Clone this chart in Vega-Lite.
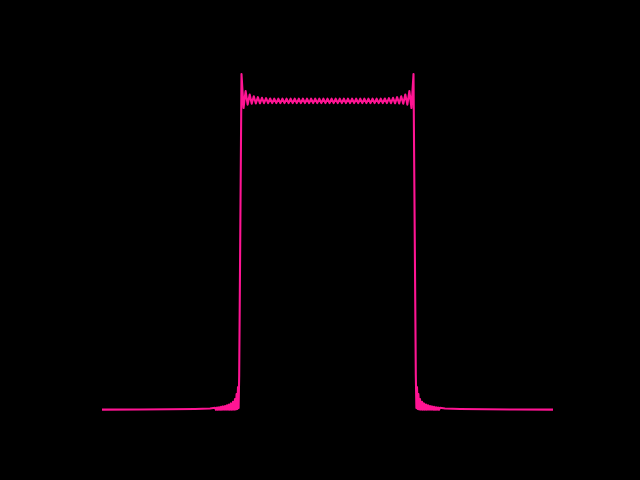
{
  "$schema": "https://vega.github.io/schema/vega-lite/v6.json",
  "autosize": {"type": "none"},
  "width": 451,
  "height": 336,
  "padding": {"left": 102, "top": 74, "right": 87, "bottom": 70},
  "background": "#000000",
  "config": {"view": {"stroke": null}},
  "data": {"values": [
    {"x": -1.0, "y": 0.0012}, {"x": -0.8315, "y": 0.0015}, {"x": -0.6984, "y": 0.0021}, {"x": -0.5876, "y": 0.0030}, {"x": -0.5211, "y": 0.0045},
    {"x": -0.4989, "y": 0.0065}, {"x": -0.4945, "y": 0.0006}, {"x": -0.4900, "y": 0.0074}, {"x": -0.4856, "y": 0.0006}, {"x": -0.4812, "y": 0.0083}, {"x": -0.4767, "y": 0.0006}, {"x": -0.4723, "y": 0.0095}, {"x": -0.4678, "y": 0.0006}, {"x": -0.4634, "y": 0.0107}, {"x": -0.4590, "y": 0.0006}, {"x": -0.4545, "y": 0.0119}, {"x": -0.4501, "y": 0.0006}, {"x": -0.4457, "y": 0.0140}, {"x": -0.4412, "y": 0.0006}, {"x": -0.4368, "y": 0.0164}, {"x": -0.4324, "y": 0.0006}, {"x": -0.4279, "y": 0.0196}, {"x": -0.4235, "y": 0.0006}, {"x": -0.4191, "y": 0.0244}, {"x": -0.4146, "y": 0.0009}, {"x": -0.4102, "y": 0.0327}, {"x": -0.4067, "y": 0.0015}, {"x": -0.4031, "y": 0.0476}, {"x": -0.4000, "y": 0.0030}, {"x": -0.3969, "y": 0.0685}, {"x": -0.3942, "y": 0.0060}, {"x": -0.3916, "y": 0.1042},
    {"x": -0.3814, "y": 1.0}, {"x": -0.3723, "y": 0.8988}, {"x": -0.3632, "y": 0.9494}, {"x": -0.3541, "y": 0.9089}, {"x": -0.3450, "y": 0.9390}, {"x": -0.3360, "y": 0.9113}, {"x": -0.3269, "y": 0.9336}, {"x": -0.3178, "y": 0.9122}, {"x": -0.3087, "y": 0.9310}, {"x": -0.2996, "y": 0.9128}, {"x": -0.2906, "y": 0.9292}, {"x": -0.2815, "y": 0.9131}, {"x": -0.2724, "y": 0.9280}, {"x": -0.2633, "y": 0.9134}, {"x": -0.2543, "y": 0.9271}, {"x": -0.2452, "y": 0.9134}, {"x": -0.2361, "y": 0.9265}, {"x": -0.2270, "y": 0.9134}, {"x": -0.2179, "y": 0.9265}, {"x": -0.2089, "y": 0.9134}, {"x": -0.1998, "y": 0.9265}, {"x": -0.1907, "y": 0.9134}, {"x": -0.1816, "y": 0.9265}, {"x": -0.1725, "y": 0.9134}, {"x": -0.1635, "y": 0.9265}, {"x": -0.1544, "y": 0.9134}, {"x": -0.1453, "y": 0.9265}, {"x": -0.1362, "y": 0.9134}, {"x": -0.1271, "y": 0.9265}, {"x": -0.1181, "y": 0.9134}, {"x": -0.1090, "y": 0.9265}, {"x": -0.0999, "y": 0.9134}, {"x": -0.0908, "y": 0.9265}, {"x": -0.0817, "y": 0.9134}, {"x": -0.0727, "y": 0.9265}, {"x": -0.0636, "y": 0.9134}, {"x": -0.0545, "y": 0.9265}, {"x": -0.0454, "y": 0.9134}, {"x": -0.0363, "y": 0.9265}, {"x": -0.0273, "y": 0.9134}, {"x": -0.0182, "y": 0.9265}, {"x": -0.0091, "y": 0.9134},
    {"x": 0.0, "y": 0.9265},
    {"x": 0.0091, "y": 0.9134}, {"x": 0.0182, "y": 0.9265}, {"x": 0.0273, "y": 0.9134}, {"x": 0.0363, "y": 0.9265}, {"x": 0.0454, "y": 0.9134}, {"x": 0.0545, "y": 0.9265}, {"x": 0.0636, "y": 0.9134}, {"x": 0.0727, "y": 0.9265}, {"x": 0.0817, "y": 0.9134}, {"x": 0.0908, "y": 0.9265}, {"x": 0.0999, "y": 0.9134}, {"x": 0.1090, "y": 0.9265}, {"x": 0.1181, "y": 0.9134}, {"x": 0.1271, "y": 0.9265}, {"x": 0.1362, "y": 0.9134}, {"x": 0.1453, "y": 0.9265}, {"x": 0.1544, "y": 0.9134}, {"x": 0.1635, "y": 0.9265}, {"x": 0.1725, "y": 0.9134}, {"x": 0.1816, "y": 0.9265}, {"x": 0.1907, "y": 0.9134}, {"x": 0.1998, "y": 0.9265}, {"x": 0.2089, "y": 0.9134}, {"x": 0.2179, "y": 0.9265}, {"x": 0.2270, "y": 0.9134}, {"x": 0.2361, "y": 0.9265}, {"x": 0.2452, "y": 0.9134}, {"x": 0.2543, "y": 0.9271}, {"x": 0.2633, "y": 0.9134}, {"x": 0.2724, "y": 0.9280}, {"x": 0.2815, "y": 0.9131}, {"x": 0.2906, "y": 0.9292}, {"x": 0.2996, "y": 0.9128}, {"x": 0.3087, "y": 0.9310}, {"x": 0.3178, "y": 0.9122}, {"x": 0.3269, "y": 0.9336}, {"x": 0.3360, "y": 0.9113}, {"x": 0.3450, "y": 0.9390}, {"x": 0.3541, "y": 0.9089}, {"x": 0.3632, "y": 0.9494}, {"x": 0.3723, "y": 0.8988}, {"x": 0.3814, "y": 1.0},
    {"x": 0.3916, "y": 0.1042}, {"x": 0.3942, "y": 0.0060}, {"x": 0.3969, "y": 0.0685}, {"x": 0.4000, "y": 0.0030}, {"x": 0.4031, "y": 0.0476}, {"x": 0.4067, "y": 0.0015}, {"x": 0.4102, "y": 0.0327}, {"x": 0.4146, "y": 0.0009}, {"x": 0.4191, "y": 0.0244}, {"x": 0.4235, "y": 0.0006}, {"x": 0.4279, "y": 0.0196}, {"x": 0.4324, "y": 0.0006}, {"x": 0.4368, "y": 0.0164}, {"x": 0.4412, "y": 0.0006}, {"x": 0.4457, "y": 0.0140}, {"x": 0.4501, "y": 0.0006}, {"x": 0.4545, "y": 0.0119}, {"x": 0.4590, "y": 0.0006}, {"x": 0.4634, "y": 0.0107}, {"x": 0.4678, "y": 0.0006}, {"x": 0.4723, "y": 0.0095}, {"x": 0.4767, "y": 0.0006}, {"x": 0.4812, "y": 0.0083}, {"x": 0.4856, "y": 0.0006}, {"x": 0.4900, "y": 0.0074}, {"x": 0.4945, "y": 0.0006}, {"x": 0.4989, "y": 0.0065},
    {"x": 0.5211, "y": 0.0045}, {"x": 0.5876, "y": 0.0030}, {"x": 0.6984, "y": 0.0021}, {"x": 0.8315, "y": 0.0015}, {"x": 1.0, "y": 0.0012}
  ]},
  "mark": {"type": "line", "color": "#ff1493", "strokeWidth": 2.08, "strokeJoin": "round", "clip": false},
  "encoding": {
    "x": {"field": "x", "type": "quantitative", "scale": {"domain": [-1, 1], "nice": false, "zero": false}, "axis": null},
    "y": {"field": "y", "type": "quantitative", "scale": {"domain": [0, 1], "nice": false, "zero": false}, "axis": null}
  }
}
